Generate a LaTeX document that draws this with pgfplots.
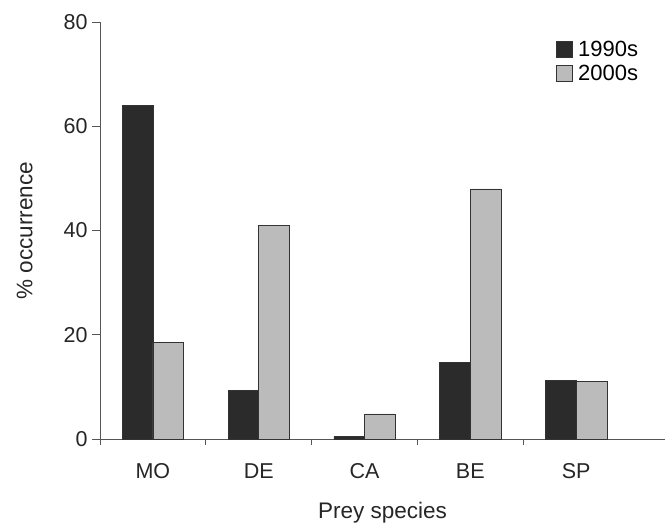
\documentclass[border=0pt]{standalone}
\usepackage{pgfplots}
\pgfplotsset{compat=1.18}
\usepackage{fontspec}
\setmainfont{Liberation Sans}
\usetikzlibrary{calc}
\definecolor{darkbar}{HTML}{2B2B2B}
\definecolor{lightbar}{HTML}{BBBBBB}
\definecolor{axgray}{HTML}{555555}
\begin{document}
\begin{tikzpicture}
\begin{axis}[
  name=ax,
  scale only axis,
  width=565pt, height=417pt,
  xmin=-0.5, xmax=4.84,
  ymin=0, ymax=80,
  axis lines=left,
  axis line style={axgray, line width=0.8pt, -},
  xtick={0,1,2,3,4},
  xticklabels={MO,DE,CA,BE,SP},
  major x tick style={draw=none},
  minor xtick={-0.5,0.5,1.5,2.5,3.5},
  minor x tick style={axgray, line width=0.8pt},
  minor tick length=6pt,
  ytick={0,20,40,60,80},
  y tick style={axgray, line width=0.8pt},
  major tick length=8pt,
  tick align=outside,
  ticklabel style={font=\fontsize{21.5}{24}\selectfont, text=black!85},
  /pgf/number format/assume math mode=true,
  xticklabel style={yshift=-13pt},
  yticklabel style={xshift=-1pt},
  xlabel={Prey species},
  ylabel={\% occurrence},
  label style={font=\fontsize{22.5}{26}\selectfont, text=black!85},
  xlabel style={yshift=-17pt},
  ylabel style={yshift=24pt},
  ybar=0pt,
  bar width=0.29,
  legend style={draw=none, fill=none, at={(0.806,0.96)}, anchor=north west,
    font=\fontsize{22}{25}\selectfont, row sep=3pt, column sep=4pt, inner sep=0pt},
  legend cell align=left,
  legend image code/.code={\draw[#1, draw=black!80] (0pt,-8pt) rectangle (16pt,8pt);},
]
\addplot[fill=darkbar, draw=black!80, line width=0.6pt] coordinates {(0,64) (1,9.3) (2,0.5) (3,14.7) (4,11.2)};
\addplot[fill=lightbar, draw=black!80, line width=0.6pt] coordinates {(0,18.5) (1,41) (2,4.8) (3,48) (4,11.1)};
\legend{1990s,2000s}
\end{axis}
\pgfresetboundingbox
\path ($(ax.south west)+(-100pt,-87pt)$) rectangle ($(ax.north east)+(0pt,22pt)$);
\end{tikzpicture}
\end{document}
